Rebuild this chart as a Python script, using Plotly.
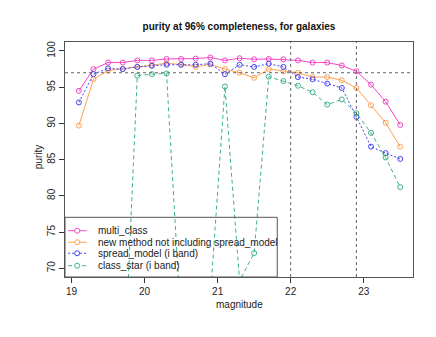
import plotly.graph_objects as go

magnitude = [19.1, 19.3, 19.5, 19.7, 19.9, 20.1, 20.3, 20.5, 20.7, 20.9, 21.1, 21.3,
             21.5, 21.7, 21.9, 22.1, 22.3, 22.5, 22.7, 22.9, 23.1, 23.3, 23.5]

multi_class = [94.5, 97.5, 98.4, 98.4, 98.7, 98.7, 98.9, 98.9, 98.95, 99.1, 98.7, 99.0,
               98.85, 98.9, 98.85, 98.7, 98.4, 98.4, 98.0, 97.2, 95.35, 93.0, 89.8]
new_method = [89.7, 96.1, 97.3, 97.5, 97.8, 98.05, 98.3, 98.15, 97.8, 98.15, 97.5, 97.0,
              96.3, 97.5, 97.2, 97.0, 96.4, 96.4, 95.95, 94.9, 92.5, 90.1, 86.8]
spread_model = [92.9, 96.8, 97.6, 97.5, 97.8, 97.95, 98.1, 98.1, 98.1, 98.25, 96.8, 98.1,
                97.8, 98.25, 97.8, 96.4, 96.1, 95.5, 94.9, 90.9, 86.8, 85.9, 85.1]
class_star = [30.0, 35.0, 40.0, 51.0, 96.6, 96.8, 96.9, 62.0, 55.0, 66.0, 95.1, 68.3,
              72.1, 96.45, 95.85, 95.2, 94.3, 92.6, 93.3, 91.4, 88.7, 85.3, 81.2]

x_ticks = [19, 20, 21, 22, 23]
y_ticks = [70, 75, 80, 85, 90, 95, 100]
completeness_level = 97
mag_cuts = [22.0, 22.9]

series = [
    ("multi_class", multi_class, "#f545c4", "solid"),
    ("new method not including spread_model", new_method, "#ffa050", "solid"),
    ("spread_model (i band)", spread_model, "#4242f5", "2px,2px"),
    ("class_star (i band)", class_star, "#3db482", "4px,3px"),
]

TEXT = "#222222"

fig = go.Figure()
for name, values, color, dash in series:
    fig.add_trace(
        go.Scatter(
            x=magnitude,
            y=values,
            name=name,
            mode="lines+markers",
            line={"color": color, "width": 1, "dash": dash},
            marker={"symbol": "circle-open", "size": 5, "color": color,
                    "line": {"width": 1, "color": color}},
            showlegend=False,
        )
    )

fig.add_hline(y=completeness_level, line={"color": "#666666", "width": 1, "dash": "dot"})
for cut in mag_cuts:
    fig.add_vline(x=cut, line={"color": "#666666", "width": 1, "dash": "dot"})

# R-style legend box in the lower-left corner (transparent, lines show through)
fig.add_shape(type="rect", xref="paper", yref="paper", x0=0, x1=0.61, y0=0, y1=0.254,
              line={"color": "#555555", "width": 1}, layer="above")
row_y = [0.197, 0.148, 0.101, 0.048]
for (name, _, color, dash), ry in zip(series, row_y):
    fig.add_shape(type="line", xref="paper", yref="paper", x0=0.009, x1=0.062, y0=ry, y1=ry,
                  line={"color": color, "width": 1, "dash": dash}, layer="above")
    fig.add_shape(type="circle", xref="paper", yref="paper", xsizemode="pixel",
                  ysizemode="pixel", xanchor=0.035, yanchor=ry, x0=-2.5, x1=2.5,
                  y0=-2.5, y1=2.5, line={"color": color, "width": 1},
                  fillcolor="white", layer="above")
    fig.add_annotation(text=name, xref="paper", yref="paper", x=0.089, y=ry,
                       xanchor="left", yanchor="middle", showarrow=False,
                       font={"size": 10, "color": TEXT})

# axis titles placed like R's mtext lines
fig.add_annotation(text="magnitude", xref="paper", yref="paper", x=0.5, y=-0.115,
                   xanchor="center", yanchor="middle", showarrow=False,
                   font={"size": 10, "color": TEXT})
fig.add_annotation(text="purity", xref="paper", yref="paper", x=-0.0776, y=0.51,
                   xanchor="center", yanchor="middle", textangle=-90, showarrow=False,
                   font={"size": 10, "color": TEXT})

axis_common = dict(
    showgrid=False,
    zeroline=False,
    ticks="outside",
    ticklen=5,
    tickcolor="#333333",
    showline=True,
    linecolor="#555555",
    mirror=True,
    automargin=False,
    tickfont={"size": 10, "color": TEXT},
)

fig.update_xaxes(range=[18.91, 23.675], tickvals=x_ticks, **axis_common)
fig.update_yaxes(range=[68.8, 101.24], tickvals=y_ticks, tickangle=-90, **axis_common)

# page body adds an 8px margin, so the figure is shrunk to fit the 436x337 window
fig.update_layout(
    width=428,
    height=329,
    margin={"l": 57, "r": 23, "t": 34, "b": 60},
    paper_bgcolor="white",
    plot_bgcolor="white",
    font={"family": "Liberation Sans, Arial, sans-serif", "color": TEXT},
    title={
        "text": "<b>purity at 96% completeness, for galaxies</b>",
        "xref": "paper",
        "x": 0.5,
        "xanchor": "center",
        "y": 0.945,
        "yanchor": "middle",
        "font": {"size": 10, "color": "#111111"},
    },
    showlegend=False,
)

fig.write_html("out.html")
